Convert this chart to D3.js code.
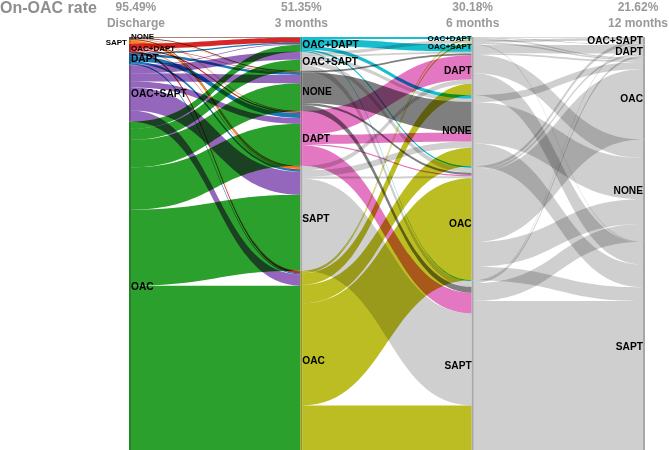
<!DOCTYPE html>
<html>
<head>
<meta charset="utf-8">
<script src="https://cdn.jsdelivr.net/npm/d3@7"></script>
<style>
  html, body { margin: 0; padding: 0; background: #fff; }
  svg { display: block; font-family: "Liberation Sans", Arial, sans-serif; }
  .flow { mix-blend-mode: multiply; }
</style>
</head>
<body>
<svg id="chart" width="669" height="450"></svg>
<script>
// ---------------- data ----------------
const stages = ["Discharge", "3 months", "6 months", "12 months"];
const rateLabels = ["95.49%", "51.35%", "30.18%", "21.62%"];
const titleText = "On-OAC rate";
const categories = ["NONE", "SAPT", "OAC+DAPT", "DAPT", "OAC+SAPT", "OAC"];

// rows = source category, columns = target category (order of `categories`)
const flowsDischargeTo3m = [
  [2, 2, 2, 1, 0, 0],
  [1, 6, 0, 1, 0, 1],
  [1, 1, 12, 3, 0, 5],
  [6, 5, 3, 12, 0, 3],
  [20, 56, 2, 14, 19, 27],
  [67, 184, 17, 102, 27, 398]
];
const flows3mTo6m = [
  [74, 14, 0, 4, 0, 5],
  [15, 223, 0, 11, 0, 5],
  [8, 2, 5, 17, 0, 4],
  [22, 50, 0, 58, 0, 3],
  [8, 14, 0, 4, 8, 12],
  [45, 108, 2, 28, 4, 247]
];
const flows6mTo12m = [
  [100, 55, 0, 0, 0, 17],
  [43, 361, 0, 5, 2, 0],
  [0, 0, 0, 2, 2, 3],
  [45, 53, 0, 20, 0, 4],
  [0, 2, 0, 0, 6, 4],
  [60, 33, 0, 5, 8, 170]
];

// ---------------- styles ----------------
const lightGray = "#cfcfcf";
const stageColors = [
  {"NONE": "#8c564b", "SAPT": "#ff7f0e", "OAC+DAPT": "#d62728", "DAPT": "#1f77b4", "OAC+SAPT": "#9467bd", "OAC": "#2ca02c"},
  {"NONE": "#7f7f7f", "SAPT": lightGray, "OAC+DAPT": "#17becf", "DAPT": "#e377c2", "OAC+SAPT": lightGray, "OAC": "#bcbd22"},
  {},
  {}
];
const colorOf = (s, c) => stageColors[s][c] || lightGray;

// ---------------- layout ----------------
const matrices = [flowsDischargeTo3m, flows3mTo6m, flows6mTo12m];
const svg = d3.select("#chart");
const W = 669, H = 450;
const x = d3.scalePoint().domain(stages).range([130, 644]);
const total = d3.sum(flowsDischargeTo3m.flat());
const y = d3.scaleLinear().domain([0, total]).range([37, 450]);

const nodeValues = stages.map((s, si) => {
  const vals = {};
  categories.forEach((c, ci) => {
    vals[c] = si === 0
      ? d3.sum(matrices[0][ci])
      : d3.sum(matrices[si - 1].map(r => r[ci]));
  });
  return vals;
});

const nodes = stages.map((s, si) => {
  const list = categories.filter(c => nodeValues[si][c] > 0)
    .map(c => ({stage: si, cat: c, value: nodeValues[si][c]}))
    .sort((a, b) => a.value - b.value);
  let acc = 0;
  list.forEach((n, i) => { n.order = i; n.v0 = acc; acc += n.value; n.v1 = acc; });
  return list;
});
const nodeOf = (si, c) => nodes[si].find(n => n.cat === c);

const links = [];
matrices.forEach((m, si) => {
  m.forEach((row, a) => row.forEach((v, b) => {
    if (v > 0) links.push({stage: si, source: nodeOf(si, categories[a]), target: nodeOf(si + 1, categories[b]), value: v});
  }));
});
nodes.forEach(col => col.forEach(n => {
  const out = links.filter(l => l.source === n).sort((a, b) => a.target.order - b.target.order);
  let acc = n.v0;
  out.forEach(l => { l.s0 = acc; acc += l.value; l.s1 = acc; });
  const inc = links.filter(l => l.target === n).sort((a, b) => a.source.order - b.source.order);
  acc = n.v0;
  inc.forEach(l => { l.t0 = acc; acc += l.value; l.t1 = acc; });
}));

function ribbon(l) {
  const x0 = x(stages[l.stage]) + 1, x1 = x(stages[l.stage + 1]) - 1;
  const xm = (x0 + x1) / 2;
  const a0 = y(l.s0), a1 = y(l.s1), b0 = y(l.t0), b1 = y(l.t1);
  return `M${x0},${a0}C${xm},${a0} ${xm},${b0} ${x1},${b0}` +
         `L${x1},${b1}C${xm},${b1} ${xm},${a1} ${x0},${a1}Z`;
}

// ---------------- draw ----------------
const gFlows = svg.append("g").style("isolation", "isolate");
gFlows.selectAll("path").data(links).join("path")
  .attr("class", "flow")
  .attr("d", ribbon)
  .attr("fill", l => colorOf(l.stage, l.source.cat));

svg.append("g").selectAll("rect").data(nodes.flat()).join("rect")
  .attr("x", n => x(stages[n.stage]) - 1)
  .attr("width", 2)
  .attr("y", n => y(n.v0))
  .attr("height", n => y(n.v1) - y(n.v0))
  .attr("fill", n => d3.color(colorOf(n.stage, n.cat)).darker(0.6));

const gLabels = svg.append("g").attr("font-weight", "bold").attr("fill", "#000");
nodes.forEach((col, si) => {
  let prevRight = -Infinity, prevLeft = -Infinity;
  col.forEach((n, i) => {
    const h = y(n.v1) - y(n.v0);
    const fs = (si < 3 && h < 10) ? 8 : 10.2;
    let left = si >= 2;
    if (si === 0 && i > 0 && h < 5 && (y(col[i - 1].v1) - y(col[i - 1].v0)) < 5) left = true;
    let cy = (y(n.v0) + y(n.v1)) / 2;
    if (left) { cy = Math.max(cy, prevLeft + fs); prevLeft = cy; }
    else { cy = Math.max(cy, prevRight + fs); prevRight = cy; }
    if (si === 0 && i === 0) cy -= 2;
    const cx = x(stages[si]);
    gLabels.append("text")
      .attr("x", left ? cx - (si === 0 ? 3 : 1) : cx + 1)
      .attr("y", cy)
      .attr("dy", "0.36em")
      .attr("text-anchor", left ? "end" : "start")
      .attr("font-size", fs)
      .text(n.cat);
  });
});

// header
const title = svg.append("text").attr("x", 0).attr("y", 13)
  .attr("font-size", 16).attr("font-weight", "bold").attr("fill", "#8e8e8e")
  .text(titleText);
const titleEnd = title.node().getComputedTextLength() + 10;
const gHead = svg.append("g").attr("font-weight", "bold").attr("fill", "#999")
  .attr("font-size", 12).attr("text-anchor", "middle");
stages.forEach((s, i) => {
  const t1 = gHead.append("text").attr("y", 10.5).text(rateLabels[i]);
  const t2 = gHead.append("text").attr("y", 27).text(s);
  const w = Math.max(t1.node().getComputedTextLength(), t2.node().getComputedTextLength());
  let cx = x(s);
  cx = Math.max(cx, titleEnd + w / 2);
  cx = Math.min(cx, W - 1 - w / 2);
  t1.attr("x", cx);
  t2.attr("x", cx);
});
</script>
</body>
</html>
